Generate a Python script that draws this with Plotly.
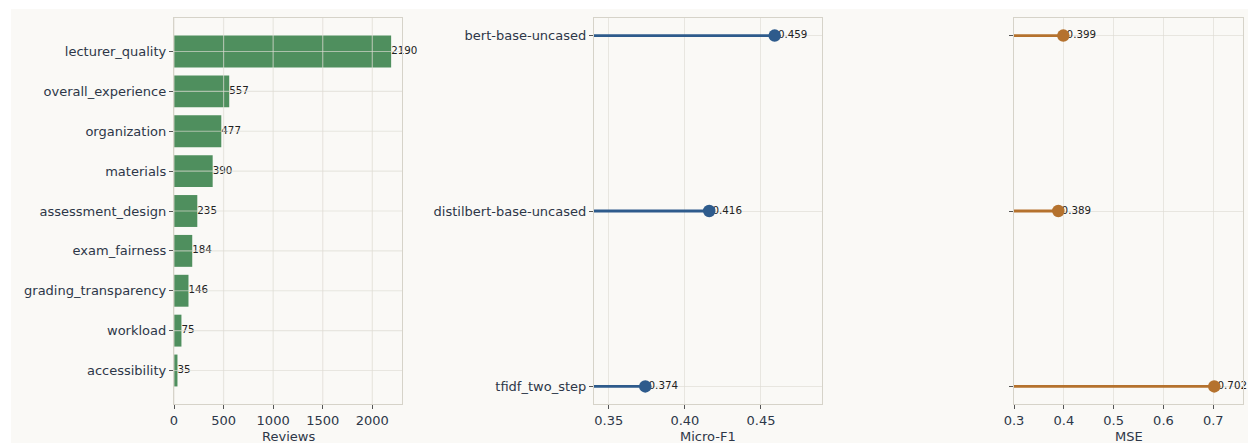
import plotly.graph_objects as go

# ---------------- data ----------------
categories = ["lecturer_quality", "overall_experience", "organization", "materials",
              "assessment_design", "exam_fairness", "grading_transparency", "workload",
              "accessibility"]
reviews = [2190, 557, 477, 390, 235, 184, 146, 75, 35]

models = ["bert-base-uncased", "distilbert-base-uncased", "tfidf_two_step"]
micro_f1 = [0.459, 0.416, 0.374]
mse = [0.399, 0.389, 0.702]

reviews_ticks = [0, 500, 1000, 1500, 2000]
f1_ticks = [0.35, 0.40, 0.45]
mse_ticks = [0.3, 0.4, 0.5, 0.6, 0.7]

# ---------------- style ----------------
W, H = 1248, 443
BG = "#faf9f6"
GREEN = "#4f8f5e"
BLUE = "#2e5b8c"
ORANGE = "#b5722e"
SPINE = "#d6d3c9"
GRID = "rgba(222,220,212,0.65)"
TXT = "#2d3748"
FONT = "DejaVu Sans, Verdana, sans-serif"

def fx(px):
    return px / W

def fy(py):
    return 1 - py / H

ydom = [fy(404), fy(18)]
doms = [[fx(174), fx(402)], [fx(594), fx(822)], [fx(1014), fx(1243)]]

bar_range = [0, max(reviews) * 1.05]
f1_range = [0.3403, 0.4901]
mse_range = [0.3, 0.7597]

fig = go.Figure()

# Panel 1: horizontal bars
fig.add_trace(go.Bar(x=reviews, y=categories, orientation="h", marker_color=GREEN,
                     marker_line_width=0, width=0.8, xaxis="x", yaxis="y",
                     showlegend=False, hoverinfo="x+y"))
fig.add_trace(go.Scatter(x=reviews, y=categories, mode="text",
                         text=[str(v) for v in reviews], textposition="middle right",
                         textfont=dict(family=FONT, size=10.3, color="#222222"),
                         cliponaxis=False,
                         xaxis="x", yaxis="y", showlegend=False, hoverinfo="skip"))

# Panel 2 & 3: lollipops
def lollipop(vals, lo, color, xa, ya, fmt):
    for m, v in zip(models, vals):
        fig.add_trace(go.Scatter(x=[lo, v], y=[m, m], mode="lines",
                                 line=dict(color=color, width=2.8),
                                 xaxis=xa, yaxis=ya, showlegend=False, hoverinfo="skip"))
    fig.add_trace(go.Scatter(x=vals, y=models, mode="text",
                             text=["\u00a0" + fmt.format(v) for v in vals],
                             textposition="middle right",
                             textfont=dict(family=FONT, size=10.3, color="#222222"),
                             cliponaxis=False,
                             xaxis=xa, yaxis=ya, showlegend=False, hoverinfo="skip"))
    fig.add_trace(go.Scatter(x=vals, y=models, mode="markers",
                             marker=dict(color=color, size=12.5, line=dict(width=0)),
                             cliponaxis=False,
                             xaxis=xa, yaxis=ya, showlegend=False))

lollipop(micro_f1, f1_range[0], BLUE, "x2", "y2", "{:.3f}")
lollipop(mse, mse_range[0], ORANGE, "x3", "y3", "{:.3f}")

# Figure background and gridlines drawn above the bars in panel 1
shapes = [dict(type="rect", xref="paper", yref="paper", x0=fx(11), x1=1, y0=0, y1=fy(9),
               fillcolor=BG, line_width=0, layer="below")]
for t in reviews_ticks:
    shapes.append(dict(type="line", xref="x", yref="y domain", x0=t, x1=t, y0=0, y1=1,
                       line=dict(color=GRID, width=1.2), layer="above"))
for c in categories:
    shapes.append(dict(type="line", xref="x domain", yref="y", x0=0, x1=1, y0=c, y1=c,
                       line=dict(color=GRID, width=1.2), layer="above"))

tickfont = dict(family=FONT, size=13, color=TXT)
titlefont = dict(family=FONT, size=13, color=TXT)

def xaxis(dom, rng, ticks, fmt, anchor, grid):
    return dict(domain=dom, range=rng, tickvals=ticks, tickformat=fmt, anchor=anchor,
                showline=True, linecolor=SPINE, linewidth=1.3, mirror=True,
                ticks="outside", ticklen=4, tickwidth=1, tickcolor="#555555",
                showgrid=grid, gridcolor=GRID, gridwidth=1, zeroline=False,
                tickfont=tickfont, automargin=False, fixedrange=True)

def yaxis(rng, cats, anchor, labels, grid):
    return dict(domain=ydom, range=rng, type="category", categoryorder="array",
                categoryarray=cats, anchor=anchor,
                showline=True, linecolor=SPINE, linewidth=1.3, mirror=True,
                ticks="outside", ticklen=4, tickwidth=1, tickcolor="#555555",
                showticklabels=labels, showgrid=grid, gridcolor=GRID, gridwidth=1,
                zeroline=False, tickfont=tickfont, automargin=False, fixedrange=True)

axis_titles = ["Reviews", "Micro-F1", "MSE"]
annotations = [dict(text=t, xref="paper", yref="paper", x=(d[0] + d[1]) / 2, y=fy(436),
                    xanchor="center", yanchor="middle", showarrow=False, font=titlefont)
               for t, d in zip(axis_titles, doms)]

n = len(categories)
fig.update_layout(
    width=W, height=H,
    margin=dict(l=0, r=0, t=0, b=0),
    paper_bgcolor="white", plot_bgcolor=BG,
    font=dict(family=FONT, color=TXT),
    xaxis=xaxis(doms[0], bar_range, reviews_ticks, "d", "y", False),
    yaxis=yaxis([n - 1 + 0.84, -0.84], categories, "x", True, False),
    xaxis2=xaxis(doms[1], f1_range, f1_ticks, ".2f", "y2", True),
    yaxis2=yaxis([2.1, -0.1], models, "x2", True, True),
    xaxis3=xaxis(doms[2], mse_range, mse_ticks, ".1f", "y3", True),
    yaxis3=yaxis([2.1, -0.1], models, "x3", False, True),
    shapes=shapes,
    annotations=annotations,
)

fig.write_html("out.html")
